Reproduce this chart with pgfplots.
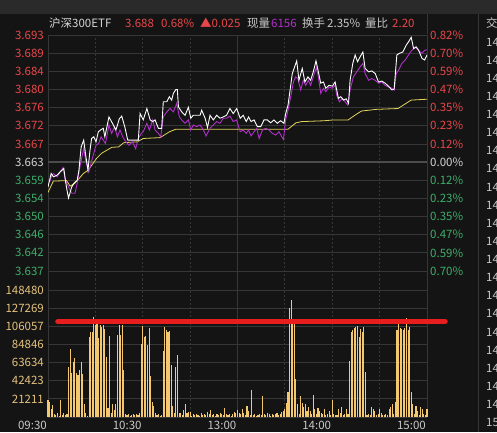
\documentclass[border=0pt]{standalone}
\usepackage{fontspec}
\setmainfont{Noto Sans CJK SC}
\usepackage{pgfplots}
\pgfplotsset{compat=1.18}

\definecolor{bg}{HTML}{141414}
\definecolor{topbar}{HTML}{2A2A2A}
\definecolor{gridc}{HTML}{363636}
\definecolor{zeroc}{HTML}{4C4C4C}
\definecolor{up}{HTML}{E8464A}
\definecolor{dn}{HTML}{3DAD6A}
\definecolor{neu}{HTML}{D4D4D4}
\definecolor{txt}{HTML}{C8C8C8}
\definecolor{volc}{HTML}{F3C86E}
\definecolor{vollab}{HTML}{E4C27C}
\definecolor{avgc}{HTML}{B22FCB}
\definecolor{yel}{HTML}{E2D35A}
\definecolor{marker}{HTML}{E81E1E}

\pgfplotsset{
  panel/.style={
    scale only axis, width=379pt, xmin=0, xmax=240,
    axis line style={draw=none}, major tick length=0pt,
    xmajorgrids, ymajorgrids,
    x grid style={gridc, dash pattern=on 2pt off 2pt, line width=0.8pt},
    y grid style={gridc, line width=0.8pt},
    xtick={30,60,90,150,180,210},
    extra x ticks={0,120,240},
    extra x tick style={x grid style={solid}},
    tick label style={font=\fontsize{11.5}{12}\selectfont, inner sep=0pt},
    yticklabel style={anchor=east, xshift=-4pt},
    scaled y ticks=false,
  }
}
\newcommand{\lab}{\fontsize{11.5}{12}\selectfont}

\begin{document}
\begin{tikzpicture}
\fill[bg] (0pt,0pt) rectangle (497pt,432pt);
\fill[topbar] (0pt,418pt) rectangle (497pt,432pt);
\begin{scope}
\clip (0pt,0pt) rectangle (497pt,432pt);

% price panel
\begin{axis}[panel, at={(48pt,152pt)}, anchor=south west, height=245pt,
  ymin=3.63504, ymax=3.69313,
  xticklabels={}, extra x tick labels={},
  ytick={3.637176,3.64148,3.645784,3.650088,3.654392,3.658696,3.663,3.667304,3.671608,3.675912,3.680216,3.68452,3.688824,3.693128},
  yticklabels={\textcolor{dn}{3.637},\textcolor{dn}{3.642},\textcolor{dn}{3.646},\textcolor{dn}{3.650},\textcolor{dn}{3.654},\textcolor{dn}{3.659},\textcolor{neu}{3.663},\textcolor{up}{3.667},\textcolor{up}{3.672},\textcolor{up}{3.676},\textcolor{up}{3.680},\textcolor{up}{3.684},\textcolor{up}{3.689},\textcolor{up}{3.693}},
  extra y ticks={3.663}, extra y tick labels={},
  extra y tick style={y grid style={zeroc, line width=1.8pt}},
]
\addplot[yel, line width=0.8pt] coordinates {
(0,3.6558) (3.4,3.6585) (11.8,3.6586) (14,3.6573) (16.7,3.6579) (19,3.6588)
(22.4,3.6603) (25.5,3.6611) (30.8,3.6639) (34,3.6651) (37.2,3.6658) (40.4,3.6665)
(44.7,3.6666) (48,3.6676) (56.5,3.6678) (60.4,3.6686) (71,3.6688) (77,3.6702)
(81,3.6708) (152,3.6708) (157,3.6723) (160.6,3.6726) (175,3.6728) (181,3.673)
(190.1,3.673) (194.3,3.6741) (198.5,3.6751) (207.9,3.6755) (221.6,3.6757)
(225.8,3.6767) (230,3.6777) (240,3.6779)
};
\addplot[avgc, line width=0.9pt] coordinates {
(1,3.6583) (2.1,3.6595) (3.5,3.6603) (5.7,3.6595) (7.8,3.6607) (9.5,3.6617) (11,3.6587)
(13,3.6571) (15,3.6556) (17.1,3.6556) (18.5,3.658) (20.6,3.6627) (22.6,3.6662) (24,3.6631)
(25.9,3.6607) (27.5,3.6631) (29,3.6651) (30.4,3.667) (32.1,3.6674) (33.6,3.669) (35,3.6682)
(36.4,3.6674) (38.6,3.6718) (40.3,3.6698) (42.2,3.6714) (43.9,3.669) (45.6,3.6706) (47.3,3.669)
(49.3,3.6678) (51.3,3.667) (53.4,3.6678) (55.5,3.6662) (57.2,3.6686) (59.1,3.6698) (60.3,3.6702)
(62.6,3.6722) (64.2,3.6706) (66.3,3.673) (67.8,3.6706) (69.9,3.6698) (71.4,3.669) (73,3.6737)
(75.2,3.6749) (77.3,3.6757) (79.4,3.6749) (81.5,3.6769) (83.2,3.6737) (84.7,3.673) (86.8,3.6722)
(88.9,3.673) (90.4,3.6706) (92,3.6718) (94.2,3.6714) (96.3,3.6718) (98.4,3.6706) (100.1,3.6692)
(102.6,3.671) (104.7,3.6718) (106.8,3.6726) (108.9,3.6722) (111,3.6734) (113.1,3.6734)
(115.2,3.6739) (117.3,3.6726) (119.4,3.673) (121.7,3.6702) (123.6,3.6706) (125.5,3.6698)
(127,3.6706) (128.6,3.6692) (130.5,3.6702) (132.2,3.671) (133.7,3.6686) (135.8,3.6706)
(137.9,3.671) (140,3.6706) (142.1,3.6698) (144.2,3.6694) (146.3,3.6702) (148,3.669)
(149.1,3.6684) (150.5,3.673) (152,3.6753) (153.7,3.6785) (155.4,3.682) (156.8,3.6832)
(158.3,3.6828) (160,3.6801) (161.7,3.6824) (163.2,3.6812) (164.8,3.6824) (166.3,3.6812)
(168,3.6832) (169.9,3.6854) (171.2,3.6832) (172.7,3.6793) (174.4,3.6805) (175.9,3.6797)
(178,3.6808) (180.1,3.6805) (181.8,3.6812) (182.8,3.6789) (184.5,3.6773) (186.6,3.6781)
(188.1,3.6773) (189.8,3.6765) (191.3,3.6801) (193.4,3.6832) (195.5,3.6844) (197.7,3.6856)
(199.4,3.6864) (200.8,3.684) (203,3.6824) (205.1,3.6828) (207.2,3.6824) (209.3,3.6817)
(211.4,3.682) (213.5,3.6812) (215.6,3.6808) (217.8,3.6805) (219.2,3.6801) (220.5,3.684)
(222,3.6848) (224.1,3.6864) (226.2,3.6872) (228.3,3.6884) (230.4,3.6895) (232.6,3.6903)
(234.7,3.6894) (236.8,3.6888) (238.5,3.6895) (240,3.6896)
};
\addplot[white, line width=0.9pt] coordinates {
(0,3.6571) (2,3.6603) (3.5,3.6595) (5.7,3.6599) (7.8,3.6607) (10,3.6615) (11,3.6587)
(12,3.6564) (13,3.6545) (15,3.6571) (16.5,3.658) (18.5,3.6587) (19.6,3.6611) (21,3.6666)
(22.6,3.6682) (24,3.6643) (25.3,3.6611) (26.6,3.6658) (27.6,3.6686) (29,3.669) (30.4,3.6678)
(31.9,3.6702) (33.6,3.6707) (35,3.671) (36,3.669) (38.6,3.6737) (40.8,3.6722) (43,3.6706)
(45.2,3.6733) (46.7,3.6739) (48.6,3.6714) (50.5,3.6682) (52.8,3.6682) (55,3.6682)
(57.2,3.6682) (58.3,3.6745) (60.3,3.673) (62.6,3.6757) (64.7,3.673) (66.3,3.6726)
(67.8,3.673) (69.9,3.671) (72,3.671) (73,3.6773) (75.2,3.6773) (76.8,3.6785) (78.3,3.6777)
(79.4,3.6793) (81,3.6802) (81.9,3.6802) (82.6,3.6761) (84.7,3.6749) (86.8,3.6741)
(88.9,3.676) (90.4,3.6734) (92,3.6741) (94.2,3.6741) (96.3,3.6741) (97.3,3.6753)
(99.5,3.6734) (101,3.6712) (102.6,3.6741) (104.7,3.673) (106.8,3.6741) (108.9,3.6734)
(111,3.6737) (113.1,3.6741) (115.2,3.6757) (117.3,3.6745) (119.5,3.6757) (121.7,3.6734)
(123.6,3.6741) (125.5,3.6726) (127,3.6737) (128.6,3.6726) (130.5,3.673) (132.6,3.6714)
(134.7,3.6714) (136.8,3.673) (138.9,3.673) (141,3.6723) (143.1,3.673) (145.2,3.6722)
(147.3,3.6728) (149.4,3.6722) (150.5,3.6745) (152,3.6765) (153.3,3.6801) (154.7,3.684)
(156.2,3.6856) (157.5,3.687) (158.9,3.6824) (161,3.6852) (162.7,3.682) (164.6,3.6832)
(166.3,3.6824) (168,3.6844) (169.7,3.687) (171.2,3.6844) (172.7,3.6817) (174.4,3.682)
(175.9,3.6805) (178,3.6812) (180.1,3.681) (181.8,3.682) (183.9,3.6781) (185.4,3.6785)
(187.1,3.6777) (188.8,3.678) (190.3,3.6769) (191.3,3.6824) (193,3.6864) (194.5,3.6884)
(196,3.6868) (197.7,3.688) (199.4,3.6891) (200.8,3.6852) (203,3.6844) (205.1,3.6846)
(207.2,3.684) (209.3,3.682) (211.4,3.6822) (213.5,3.6817) (215.6,3.681) (217.8,3.6801)
(219.2,3.6803) (220.9,3.6884) (222.6,3.6888) (224.7,3.6891) (226.8,3.6907) (228.3,3.6915)
(230,3.6926) (231.5,3.6899) (233.2,3.6903) (234.7,3.6895) (236.8,3.6876) (238.5,3.6872)
(240,3.6884)
};
\end{axis}

% percent labels on the right
\begin{axis}[scale only axis, at={(48pt,152pt)}, anchor=south west, width=379pt, height=245pt,
  xmin=0, xmax=240, ymin=-0.76331, ymax=0.82255,
  axis line style={draw=none}, xtick=\empty, major tick length=0pt,
  yticklabel pos=right,
  ytick={-0.705,-0.5875,-0.47,-0.3525,-0.235,-0.1175,0,0.1175,0.235,0.3525,0.47,0.5875,0.705,0.8225},
  yticklabels={\textcolor{dn}{0.70\%},\textcolor{dn}{0.59\%},\textcolor{dn}{0.47\%},\textcolor{dn}{0.35\%},\textcolor{dn}{0.23\%},\textcolor{dn}{0.12\%},\textcolor{neu}{0.00\%},\textcolor{up}{0.12\%},\textcolor{up}{0.23\%},\textcolor{up}{0.35\%},\textcolor{up}{0.47\%},\textcolor{up}{0.59\%},\textcolor{up}{0.70\%},\textcolor{up}{0.82\%}},
  yticklabel style={anchor=west, xshift=3pt, inner sep=0pt, font=\lab},
]
\end{axis}

% volume panel
\begin{axis}[panel, at={(48pt,15pt)}, anchor=south west, height=137pt,
  ymin=0, ymax=160170, clip=false,
  xticklabels={,10:30,,,14:00,}, extra x tick labels={09:30,13:00,15:00},
  xticklabel style={anchor=north east, yshift=-4pt, xshift=-1pt, text=txt},
  ytick={21211,42423,63634,84846,106057,127269,148480},
  yticklabels={21211,42423,63634,84846,106057,127269,148480},
  yticklabel style={text=vollab},
  extra y ticks={0}, extra y tick labels={},
  extra y tick style={y grid style={solid}},
]
\addplot[ycomb, volc, line width=1.1pt, mark=none] table {
x y
0 19600
1 18000
2 9500
3 13500
4 4000
5 2000
6 5000
7 1500
8 19600
9 2000
10 5000
11 2000
12 4000
13 58600
14 80000
15 51000
16 63800
17 68400
18 52000
19 49000
20 54700
21 63800
22 49700
23 15000
24 5000
25 1500
26 93800
27 98900
28 98900
29 117000
30 108000
31 115000
32 91900
33 107500
34 105500
35 107000
36 102800
37 70000
38 11000
39 94600
40 5000
41 15600
42 8000
43 15600
44 95700
45 108000
46 95700
47 107500
48 55500
49 3000
50 2000
51 3000
52 1500
53 2000
54 4000
55 2000
56 3000
57 2000
58 5000
59 84900
60 106000
61 93800
62 94600
63 84000
64 103600
65 47700
66 17700
67 13000
68 5000
69 2000
70 3000
71 1500
72 2000
73 77000
74 104800
75 101600
76 98900
77 100000
78 60600
79 13000
80 5000
81 58600
82 72300
83 5000
84 5000
85 2000
86 8000
87 15600
88 5000
89 6000
90 6000
91 1500
92 3000
93 2000
94 4000
95 2000
96 1500
97 5000
98 2000
99 3000
100 2000
101 6000
102 3000
103 8000
104 2000
105 3000
106 1500
107 4000
108 2000
109 5000
110 3000
111 2000
112 10000
113 3000
114 2000
115 4000
116 1500
117 3000
118 6000
119 5000
120 8000
121 5000
122 3000
123 9500
124 5000
125 2000
126 13000
127 7000
128 2000
129 31000
130 2000
131 3000
132 1500
133 2000
134 4000
135 2000
136 24500
137 4000
138 2000
139 5000
140 3000
141 1500
142 4000
143 2000
144 3000
145 5000
146 2000
147 4000
148 6000
149 7000
150 9000
151 16000
152 29600
153 128000
154 137000
155 115000
156 115000
157 45000
158 15000
159 3000
160 24000
161 16000
162 12000
163 15000
164 7000
165 12000
166 7000
167 3000
168 25700
169 9000
170 3000
171 10000
172 7000
173 5000
174 4000
175 9000
176 2000
177 4000
178 7000
179 2000
180 20000
181 4000
182 2000
183 2000
184 9000
185 5000
186 12000
187 2000
188 4000
189 9000
190 3000
191 65500
192 99000
193 101600
194 103600
195 105500
196 106700
197 93800
198 102800
199 99600
200 105500
201 53000
202 2000
203 4000
204 2000
205 12000
206 9000
207 7000
208 2000
209 4000
210 9000
211 5000
212 2000
213 2000
214 4000
215 2000
216 9000
217 12000
218 15000
219 3000
220 18000
221 101600
222 115000
223 103600
224 102800
225 101600
226 103600
227 116000
228 101600
229 105500
230 29600
231 15000
232 3000
233 13000
234 7000
235 2000
236 12000
237 9000
238 4000
239 2000
240 9000
};
\addplot[marker, line width=5.5pt, line cap=round] coordinates {(6.3,111600) (251.4,111600)};
\end{axis}

% header line
\draw[gridc, line width=0.8pt] (427.5pt,418pt) -- (427.5pt,397.5pt);
\begin{scope}[every node/.style={anchor=base west, inner sep=0pt, font=\lab}]
\node[text=neu] at (49pt,404.5pt) {沪深300ETF};
\node[text=up] at (125pt,404.5pt) {3.688};
\node[text=up] at (161pt,404.5pt) {0.68\%};
\node[text=up] at (200pt,404.5pt) {▲0.025};
\node[text=txt] at (247pt,404.5pt) {现量};
\node[text=avgc] at (271pt,404.5pt) {6156};
\node[text=txt] at (302pt,404.5pt) {换手};
\node[text=txt] at (327pt,404.5pt) {2.35\%};
\node[text=txt] at (365pt,404.5pt) {量比};
\node[text=up] at (392pt,404.5pt) {2.20};
\node[text=txt] at (486pt,404.5pt) {交};
\end{scope}

% side list column
\draw[gridc, line width=0.8pt] (478pt,0pt) -- (478pt,418pt);
\foreach \k in {0,...,20} {
  \node[anchor=west, inner sep=0pt, text=txt, font=\lab] at (486pt,{(432-42-18.12*\k)*1pt}) {14:59};
}
\node[anchor=west, inner sep=0pt, text=txt, font=\lab] at (486pt,{(432-42-18.12*21)*1pt}) {15:00};
\end{scope}
\pgfresetboundingbox
\useasboundingbox (0pt,0pt) rectangle (497pt,432pt);
\end{tikzpicture}
\end{document}
